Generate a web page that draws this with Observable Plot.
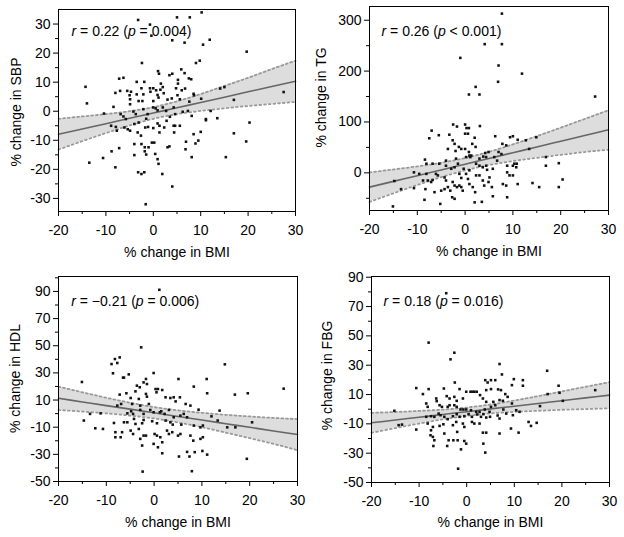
<!DOCTYPE html>
<html>
<head>
<meta charset="utf-8">
<script src="https://cdn.jsdelivr.net/npm/d3@7"></script>
<script src="https://cdn.jsdelivr.net/npm/@observablehq/plot@0.6"></script>
<style>
  html, body { margin: 0; padding: 0; background: #fff; }
  #wrap { position: relative; width: 624px; height: 537px; overflow: hidden; }
  .panel { position: absolute; }
</style>
</head>
<body>
<div id="wrap"></div>
<script>
// ---------- DATA ----------
const xMajorTicks = [-20, -10, 0, 10, 20, 30];
const xMinorTicks = [-15, -5, 5, 15, 25];
const xLabel = "% change in BMI";

// [% change in BMI, % change in SBP]
const sbpPoints = [[-3.2,31.4],[-0.7,29.8],[5.0,32.3],[7.7,32.3],[10.2,34],[-0.4,26],[4.0,24.4],[6.6,23.6],[10.5,22.9],[11.9,24.6],[19.7,20.5],[9.0,16.6],[9.8,17.4],[-2.4,16.6],[5.9,14.4],[1.0,13.8],[1.2,12.9],[4.0,12.9],[3.4,12.4],[6.6,13.1],[-14.3,8.4],[-7.2,11.2],[-6.3,11.5],[-3.5,10.1],[-1.9,10.1],[7.5,11.3],[8,11],[5.2,10.8],[5.2,9.5],[1.6,9.5],[2,8.3],[-0.7,7.9],[0,7.9],[0.6,7.2],[1.5,7.4],[-2.5,7.9],[-5.5,7],[-4.7,6.7],[-7,7],[-8,6.3],[-3.5,5.8],[-0.6,6.7],[0.9,5.6],[2.2,6.2],[4.8,7.9],[6,7.2],[6.7,7.8],[8.5,6],[8.6,5.5],[15,8.3],[14.1,7.8],[27.5,6.6],[-14,2.7],[-2.1,5.8],[-2.3,3.5],[-4.9,4.1],[-3.1,3.5],[-4.9,2.4],[0,3.5],[1.1,4.7],[3,4],[3.9,4.4],[5.1,5.5],[5.6,4.1],[7.6,3.3],[10.1,4.3],[17,3.9],[-8.4,1.5],[-10.4,-0.8],[-6.9,-1],[-6.3,-1.8],[-5.8,-2.7],[-4.2,-0.1],[-3.7,-1],[-2.1,0.7],[-1.2,-1],[-1.5,-2.6],[0,1.3],[0.5,1],[0.9,0.3],[2,1.3],[2.7,0.1],[3.5,-1.9],[4.3,1.3],[4.6,-1],[6.2,-0.2],[7.3,0.1],[8.1,-1.6],[12.1,0.1],[11.1,-2.7],[11.1,-3.1],[13.5,-2.4],[-8.9,-5],[-7.9,-5.4],[-7.7,-6.7],[-6.1,-5.6],[-5.4,-6.2],[-4.9,-6.7],[-4,-4.4],[-3.1,-3.9],[-3.3,-7.3],[-2.6,-8.4],[-1.7,-5.6],[-1.1,-5.4],[0,-5.8],[0.9,-4.2],[1.3,-5],[2.8,-3.3],[2.3,-5.6],[4.3,-5],[4.6,-5],[5.6,-5],[4.4,-7.3],[1.3,-7.3],[8.5,-7.9],[10,-7.1],[17,-7.6],[20.3,-3.9],[19.6,-10.4],[8.9,-11.1],[9.5,-10.1],[6.9,-10.5],[6.8,-13.1],[3.0,-12.4],[3.4,-12.1],[-0.3,-10.8],[0.2,-10.8],[-1,-12.4],[-4,-11.3],[-2.5,-11.3],[-1.8,-12.4],[-7.2,-12.7],[-8.8,-13.8],[-10.6,-16.1],[-13.5,-17.7],[-8,-19.3],[-4,-15.1],[-1.8,-13.8],[-1.5,-14.9],[0.4,-14.7],[0.9,-16.5],[1.1,-18.1],[8.1,-15.8],[15.3,-15.8],[-3.2,-21],[-2.5,-21.6],[-1.9,-21],[1.9,-21.6],[4,-25.9],[-1.6,-32],[-5,5.5]];

// [% change in BMI, % change in TG]
const tgPoints = [[7.7,313],[4.1,253],[7.7,253],[-1.0,226],[7.0,211],[6.9,179],[11.9,195],[2.2,169],[0.8,154],[3,154],[27.2,150],[-2.5,95],[0,95],[3.1,92],[-1.7,91],[0.3,88],[0.8,88],[-7,83],[-7.5,68],[-5.5,74],[-3.3,75],[0,77],[0.6,77],[6.3,72],[9.4,70],[10,72],[14.9,70],[12.7,64],[-2.6,64],[-2.2,57],[-1.3,51],[-0.8,47],[0,47],[1.5,57],[2,69],[2.2,51],[-3.6,47],[-2,43],[0.8,41],[1.3,34],[4.2,39],[4.9,41],[7,41],[7.6,37],[7.8,57],[8.6,54],[11,65],[13.4,47],[-8.4,26],[-8.1,18],[-6.8,18],[-5.4,18],[-4,24],[-4,14],[-1.9,28],[-1.5,18],[0.2,31],[0.9,34],[1.1,31],[3,28],[3.8,32],[4.4,31],[6.1,31],[6.7,24],[2.3,18],[3,14],[4.4,14],[8.8,14],[10,14],[10.3,18],[10.7,11],[16.9,31],[16.9,14],[19.6,19],[5.8,8],[8.8,1],[9.3,-5],[-10.7,1],[-14.8,-16],[-13.4,-32],[-10.7,-30],[-9.6,-2],[-8.1,-2],[-8.8,-15],[-7.8,-15],[-7.1,-18],[-6.8,-14],[-6.1,-2],[-5.7,-5],[-8.3,-32],[-6.4,-38],[-8.5,-53],[-15.1,-66],[-5.2,-61],[-4.3,-9],[-4,-15],[-3.6,-28],[-3.1,-35],[-4.3,-32],[-5,-35],[-2.6,-18],[-2.2,-25],[-1.7,-28],[-1.2,-2],[-0.8,-10],[-2.7,-48],[-2.2,-51],[-1.2,-25],[-0.8,-28],[-0.5,-35],[0.2,-2],[0.6,-12],[0.9,-22],[1.6,-28],[2.1,-38],[2,-58],[3.5,-57],[2.3,-5],[3,-5],[3.7,-15],[4,-25],[4.9,-18],[5.1,-9],[5.6,-28],[5.8,-46],[8.8,-48],[7.9,-22],[8.6,-25],[11,-22],[14.1,-20],[15.5,-28],[19.6,-28],[20.4,-13],[10.8,18],[10,-5],[4.6,6],[3.7,11],[-2.9,8],[-2.2,11],[-0.3,8],[0.9,5]];

// [% change in BMI, % change in HDL]
const hdlPoints = [[1.1,91.2],[-2.7,48.8],[14.8,36.3],[-7.2,41.4],[-8.2,40.2],[-7.7,37.3],[-8.9,36.5],[-8.6,29.7],[-0.1,29.9],[-5.3,28.9],[-6.5,26.5],[-6.3,26.5],[5.1,25.5],[11,25.5],[-15.1,23.3],[-1.7,25.5],[-2.2,23],[-3.6,20.6],[-3,19.4],[0.3,18.1],[0.8,18.1],[1.7,17.4],[0.5,15.7],[8.3,19.9],[-1.5,21.8],[11.1,15],[16.9,14],[19.6,15],[27.1,18.4],[-7.2,14],[-5.8,15],[-3.9,16.4],[-1.7,14.5],[-1.5,12.5],[-4.9,11.5],[-3.2,10.8],[2.4,12],[3.4,11.5],[4.1,12],[5.4,12],[4.5,9],[-7.7,5.9],[-6.9,7.1],[-4.6,7.1],[-2.9,5.9],[-1.1,7.1],[6.6,7.1],[7.6,5.9],[9.3,2.9],[-11.2,0.2],[-13.4,-0.2],[-5.6,0.2],[-4.8,1.7],[-4.4,-0.2],[-2.9,2.7],[-2.2,-0.2],[-0.8,2.7],[-0.1,1],[1.2,1],[1.5,1.7],[2.2,-0.2],[3.1,2.7],[4.1,-2.7],[5.5,-1.5],[6.2,-0.2],[6.9,-2.7],[12,-2],[13.7,2.2],[13.3,-5.1],[-14.7,-5.1],[-8.4,-6.9],[-6.3,-6.4],[-5.6,-6.4],[-4.2,-3.9],[-3.9,-7.6],[-2.2,-4.7],[-2.5,-7.1],[-0.4,-5.6],[0.6,-7.1],[2.4,-5.1],[3.4,-6.4],[3.9,-8.1],[5.7,-8.1],[8.3,-8.8],[9.7,-10.1],[10.2,-8.8],[15.3,-10.1],[17,-10.1],[20.5,-6.4],[-12.3,-10.8],[-10.7,-11.3],[-8.1,-13.7],[-6.7,-13.7],[-4.9,-12.5],[-4.4,-15],[-3.2,-11.3],[-2.2,-16.2],[-1.7,-16.2],[0.1,-15],[0.6,-16.2],[2.7,-12.5],[3.1,-15],[3.8,-13.7],[1.3,-17.4],[1.7,-21.1],[5,-16.2],[5.5,-15],[7.6,-16.2],[8.2,-19.9],[9.7,-18.6],[10.2,-17.4],[-8.1,-17.4],[-7,-17.4],[-2.9,-18.6],[-2.5,-23.5],[-0.1,-22.3],[0.8,-24.8],[1.7,-29.2],[8.5,-28.4],[10.1,-27.5],[11.1,-30.2],[5.2,-31.6],[7.4,-31.6],[6.9,-28.2],[19.4,-33.3],[-2.4,-42.7],[7.9,-42.4]];

// [% change in BMI, % change in FBG]
const fbgPoints = [[-4.3,79.1],[-8,45.4],[-2.6,38.5],[-3.4,34],[6.9,30.8],[16.9,26.2],[7.4,23.7],[-2.5,18.2],[3.9,19.8],[5.1,19.8],[4.4,18.2],[6,19.8],[9.9,20.5],[11.8,19.8],[11.8,16],[19.3,16],[9.5,16.4],[-10.6,14.4],[-8,13.7],[-4.8,14.1],[-1.5,13.7],[-0.1,11.9],[0.8,11.9],[1.2,11.9],[1.6,11.9],[2.1,11.9],[4.1,13],[5.1,13.7],[6.6,13.5],[7.2,13],[8.1,10.3],[8.6,8.4],[17,10.3],[19.5,11.2],[27,13],[-9.2,10.3],[-6.4,7.3],[-6.3,5.5],[-4.2,8.9],[-3.6,7.3],[-2.6,8.4],[-2.1,5.7],[-0.8,7.3],[2.8,9.6],[3.4,7.3],[4.1,5],[5.6,5],[6,2.7],[6.9,6.2],[7.6,5.7],[9.5,3.9],[20.2,5.7],[-8.5,3.9],[-8.2,1.6],[-5.7,2.7],[-5.2,1.6],[-4,1.6],[-3.6,2.7],[-2.6,2.7],[-2.1,1.6],[-1.3,-0.2],[-0.7,-0.2],[-0.1,-0.2],[0.9,-0.7],[2,-1.8],[2.7,-1.8],[3.8,-0.2],[4.8,-1.8],[5.1,1.6],[7.7,-0.2],[8.3,-3],[10.4,-0.7],[11.1,-1.8],[15.4,2.1],[-15.2,-1.1],[-14.3,-10.9],[-13.6,-10.5],[-10.6,-13.9],[-8.5,-5.2],[-7.5,-4.8],[-6.8,-5.2],[-5.9,-3],[-5.5,-4.1],[-4.7,-5.2],[-4,-6.8],[-2.9,-4.8],[-2.1,-3.4],[-1.5,-5.2],[-0.5,-4.8],[0.4,-3.4],[1.1,-5.2],[2.2,-3.6],[3,-5.2],[3.5,-3.4],[4.1,-5.7],[4.9,-5.2],[6.5,-4.3],[6.9,-6.4],[9.7,-4.1],[-8.2,-9.8],[-7.1,-12.1],[-7.5,-14.4],[-5.7,-11.4],[-4.9,-10.3],[-2.9,-10.9],[-2.2,-8.7],[-0.8,-9.8],[-0.5,-12.1],[1.1,-8.7],[1.6,-9.8],[2.7,-9.8],[13,-8.7],[13.5,-11.4],[14.7,-9.3],[9.3,-13.2],[10.9,-16],[6.9,-16.6],[-7.6,-17.8],[-7.1,-18.9],[-6.8,-21.2],[-4.7,-16.6],[-2,-15.5],[3.4,-16],[4.1,-16],[-3.8,-21.2],[-2.8,-21.2],[-1.9,-21.2],[-0.5,-21.7],[-0.1,-23.5],[-4.1,-25.1],[-1.2,-27.4],[-7,-25.1],[3.5,-23.5],[3.9,-29.6],[-1.8,-40.6]];

// Regression line and 95% band, read at these x positions
const bandX = [-20, -15, -10, -5, 0, 5, 10, 15, 20, 25, 30];
const sbpFit = [-7.9, -6.1, -4.3, -2.4, -0.6, 1.2, 3.0, 4.8, 6.7, 8.5, 10.3];
const sbpLo  = [-13.2, -10.3, -7.5, -4.9, -2.6, -1.0, 0.1, 1.0, 1.8, 2.5, 3.2];
const sbpHi  = [-2.6, -1.8, -1.0, 0.0, 1.4, 3.4, 5.9, 8.7, 11.5, 14.5, 17.4];
const tgFit  = [-28.1, -16.8, -5.6, 5.7, 17.0, 28.3, 39.6, 50.8, 62.1, 73.4, 84.7];
const tgLo   = [-57.1, -40.2, -23.8, -8.4, 5.0, 15.4, 23.2, 29.5, 35.4, 40.9, 45.5];
const tgHi   = [0.9, 6.6, 12.7, 19.8, 29.0, 41.2, 56.0, 72.1, 88.8, 105.9, 123];
const hdlFit = [11.3, 8.6, 5.9, 3.3, 0.6, -2.1, -4.7, -7.4, -10.1, -12.8, -15.4];
const hdlLo  = [2.7, 1.5, 0.2, -1.5, -3.6, -6.5, -10.0, -14.0, -18.1, -22.3, -27.0];
const hdlHi  = [19.9, 15.7, 11.7, 8.0, 4.8, 2.4, 0.6, -0.9, -2.1, -3.2, -4.0];
const fbgFit = [-9.3, -7.4, -5.5, -3.6, -1.7, 0.2, 2.0, 3.9, 5.8, 7.7, 9.6];
const fbgLo  = [-16.1, -12.9, -9.8, -6.9, -4.6, -2.9, -1.8, -1.1, -0.4, 0.1, 0.6];
const fbgHi  = [-2.5, -1.9, -1.2, -0.3, 1.1, 3.2, 5.9, 8.9, 12.1, 15.3, 18.4];

const yLabels = ["% change in SBP", "% change in TG", "% change in HDL", "% change in FBG"];
const rValues = ["0.22", "0.26", "\u22120.21", "0.18"];
const pValues = ["= 0.004", "< 0.001", "= 0.006", "= 0.016"];

const sbpMajor = [-30, -20, -10, 0, 10, 20, 30];
const sbpMinor = [-25, -15, -5, 5, 15, 25];
const tgMajor = [0, 100, 200, 300];
const tgMinor = [-50, 50, 150, 250];
const hdlMajor = [-50, -30, -10, 10, 30, 50, 70, 90];
const hdlMinor = [-40, -20, 0, 20, 40, 60, 80, 100];
const fbgMajor = [-50, -30, -10, 10, 30, 50, 70, 90];
const fbgMinor = [-40, -20, 0, 20, 40, 60, 80];

// ---------- DRAWING ----------
const FONT = "'Liberation Sans', Arial, Helvetica, sans-serif";
const fmt = d => String(d);
const toObj = pts => pts.map(([x, y]) => ({x, y}));
const bandData = (fit, lo, hi) => bandX.map((x, i) => ({x, fit: fit[i], lo: lo[i], hi: hi[i]}));

function panel(cfg) {
  const band = bandData(cfg.fit, cfg.lo, cfg.hi);
  const ann = `r = ${cfg.r} (p ${cfg.p})`;
  const svg = Plot.plot({
    width: 312,
    height: cfg.height,
    marginLeft: cfg.m[0], marginRight: cfg.m[1], marginTop: cfg.m[2], marginBottom: cfg.m[3],
    style: {fontFamily: FONT, fontSize: "14px", color: "#000", background: "#fff", overflow: "visible"},
    x: {domain: [-20, 30]},
    y: {domain: cfg.yDomain},
    marks: [
      Plot.areaY(band, {x: "x", y1: "lo", y2: "hi", fill: "#dddddd", curve: "monotone-x"}),
      Plot.line(band, {x: "x", y: "lo", stroke: "#999999", strokeWidth: 1.8, strokeDasharray: "1.8,2.9", curve: "monotone-x"}),
      Plot.line(band, {x: "x", y: "hi", stroke: "#999999", strokeWidth: 1.8, strokeDasharray: "1.8,2.9", curve: "monotone-x"}),
      Plot.line(band, {x: "x", y: "fit", stroke: "#666666", strokeWidth: 1.6, curve: "monotone-x"}),
      Plot.dot(toObj(cfg.points), {x: "x", y: "y", symbol: "square", r: 1.45, fill: "#111", stroke: "none"}),
      Plot.frame({stroke: "#000", strokeWidth: 1}),
      Plot.axisX(xMajorTicks, {tickSize: 5, tickPadding: 9, tickFormat: fmt, label: null, fontSize: 14}),
      Plot.axisX(xMinorTicks, {tickSize: 3, tickFormat: () => "", label: null}),
      Plot.axisY(cfg.yMajor, {tickSize: 5, tickPadding: 3, tickFormat: fmt, label: null, fontSize: 14}),
      Plot.axisY(cfg.yMinor, {tickSize: 3, tickFormat: () => "", label: null}),
      Plot.text([cfg.yLabel], {frameAnchor: "left", textAnchor: "middle", lineAnchor: "middle", rotate: -90, dx: cfg.yl[0], dy: cfg.yl[1], fontSize: 14, fill: "#000"}),
      Plot.text([xLabel], {frameAnchor: "bottom", textAnchor: "middle", lineAnchor: "middle", dy: cfg.xlDy, fontSize: 14, fill: "#000"}),
      Plot.text([ann], {frameAnchor: "top-left", textAnchor: "start", lineAnchor: "middle", dx: cfg.an[0], dy: cfg.an[1], fontSize: 14, fill: "#000"})
    ]
  });
  // italic r and p
  svg.querySelectorAll("text").forEach(t => {
    if (t.textContent === ann) {
      const NS = "http://www.w3.org/2000/svg";
      t.textContent = "";
      const add = (s, it) => {
        const ts = document.createElementNS(NS, "tspan");
        ts.textContent = s;
        if (it) ts.setAttribute("font-style", "italic");
        t.appendChild(ts);
      };
      add("r", true); add(` = ${cfg.r} (`); add("p", true); add(` ${cfg.p})`);
    }
  });
  const div = document.createElement("div");
  div.className = "panel";
  div.style.left = cfg.pos[0] + "px";
  div.style.top = cfg.pos[1] + "px";
  div.appendChild(svg);
  document.getElementById("wrap").appendChild(div);
}

panel({points: sbpPoints, fit: sbpFit, lo: sbpLo, hi: sbpHi, r: rValues[0], p: pValues[0],
  yLabel: yLabels[0], yDomain: [-34.5, 35], yMajor: sbpMajor, yMinor: sbpMinor,
  height: 268, m: [58, 17, 9, 57], pos: [0, 0], yl: [-42, 1.5], xlDy: 41, an: [13, 22.5]});
panel({points: tgPoints, fit: tgFit, lo: tgLo, hi: tgHi, r: rValues[1], p: pValues[1],
  yLabel: yLabels[1], yDomain: [-74, 327], yMajor: tgMajor, yMinor: tgMinor,
  height: 268, m: [57, 16, 6, 58], pos: [312, 0], yl: [-47.5, -11], xlDy: 41.5, an: [12, 25.5]});
panel({points: hdlPoints, fit: hdlFit, lo: hdlLo, hi: hdlHi, r: rValues[2], p: pValues[2],
  yLabel: yLabels[2], yDomain: [-50, 101], yMajor: hdlMajor, yMinor: hdlMinor,
  height: 267, m: [58, 15, 6, 56], pos: [0, 270], yl: [-43, -0.5], xlDy: 41, an: [12.7, 25.5]});
panel({points: fbgPoints, fit: fbgFit, lo: fbgLo, hi: fbgHi, r: rValues[3], p: pValues[3],
  yLabel: yLabels[3], yDomain: [-50, 90.5], yMajor: fbgMajor, yMinor: fbgMinor,
  height: 267, m: [59, 15, 6, 55], pos: [312, 270], yl: [-44, -4], xlDy: 40, an: [12, 25.5]});
</script>
</body>
</html>
